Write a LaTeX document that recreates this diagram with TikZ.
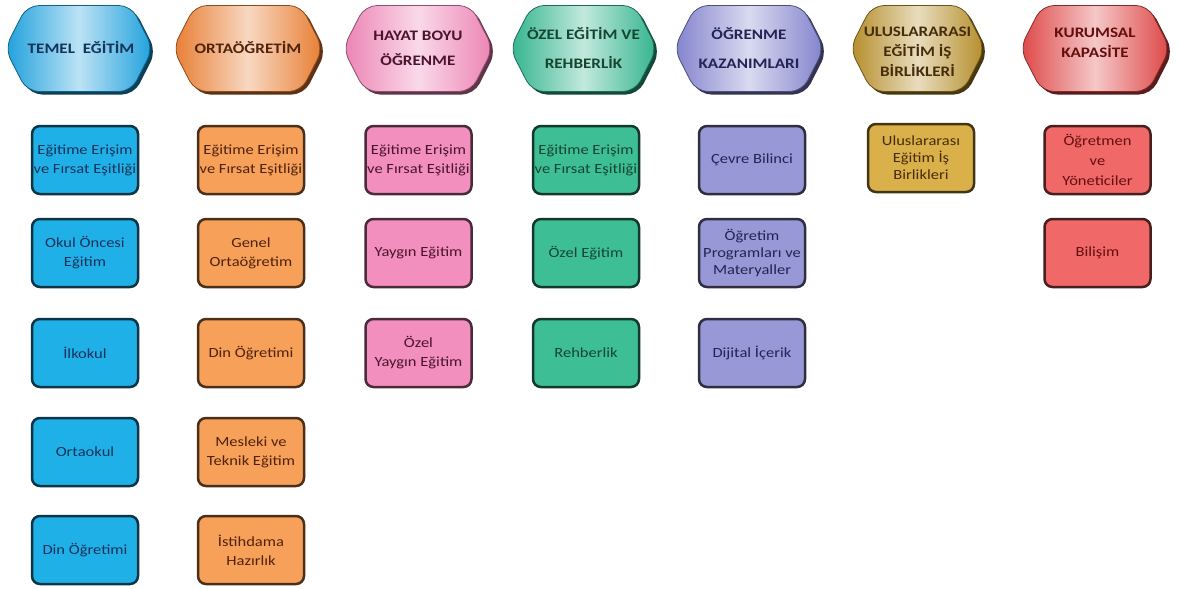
\documentclass[tikz,border=0pt]{standalone}
\usepackage{fontspec}
\setmainfont{Carlito}[FakeStretch=1.18]
\usetikzlibrary{shadings}
\definecolor{cBlue}{RGB}{32,176,232}
\definecolor{cOrange}{RGB}{247,160,90}
\definecolor{cPink}{RGB}{242,143,190}
\definecolor{cGreen}{RGB}{62,190,148}
\definecolor{cPurple}{RGB}{152,152,214}
\definecolor{cGold}{RGB}{217,176,74}
\definecolor{cRed}{RGB}{240,104,104}
\definecolor{hBlue}{RGB}{30,160,220}
\definecolor{hOrange}{RGB}{232,125,50}
\definecolor{hPink}{RGB}{236,130,180}
\definecolor{hGreen}{RGB}{50,180,140}
\definecolor{hPurple}{RGB}{130,130,205}
\definecolor{hGold}{RGB}{180,140,40}
\definecolor{hRed}{RGB}{222,70,70}
\definecolor{tBlue}{RGB}{20,50,90}
\definecolor{tOrange}{RGB}{80,35,10}
\definecolor{tPink}{RGB}{75,20,45}
\definecolor{tGreen}{RGB}{20,70,50}
\definecolor{tPurple}{RGB}{35,35,85}
\definecolor{tGold}{RGB}{70,45,10}
\definecolor{tRed}{RGB}{100,15,15}
\tikzset{
  box/.style={draw=c#1!30!black, fill=c#1, text=t#1, line width=2.5pt, rounded corners=8pt,
    minimum width=106pt, minimum height=68pt, align=center, inner sep=0pt,
    font=\fontsize{14}{19}\selectfont},
  hdrtext/.style={text=t#1, align=center, font=\bfseries\fontsize{14.5}{24}\selectfont},
}
\newcommand\hexhdr[3]{%
  \begin{scope}[shift={(#2,48.5)}]
    \path[fill=h#1!40!black, rounded corners=12pt]
      ({-#3+3},3) -- ({-#3+25},-40) -- ({#3-19},-40) -- ({#3+3},3) -- ({#3-19},46) -- ({-#3+25},46) -- cycle;
    \path[draw=h#1!60!black, line width=0.8pt, left color=h#1, right color=h#1, middle color=white!70!h#1, rounded corners=12pt]
      ({-#3},0) -- ({-#3+22},-43) -- ({#3-22},-43) -- ({#3},0) -- ({#3-22},43) -- ({-#3+22},43) -- cycle;
  \end{scope}}
\begin{document}
\begin{tikzpicture}[x=1pt,y=-1pt]
\useasboundingbox[fill=white] (0,0) rectangle (1179,589);
% headers
\hexhdr{Blue}{79}{74}
\hexhdr{Orange}{248}{75}
\hexhdr{Pink}{418}{75}
\hexhdr{Green}{583.5}{73.5}
\hexhdr{Purple}{749}{75}
\hexhdr{Gold}{917.5}{67.5}
\hexhdr{Red}{1095}{75}
\node[hdrtext=Blue] (h1) at (81,47) {TEMEL\ \ EĞİTİM};
\node[hdrtext=Orange] (h2) at (248,47) {ORTAÖĞRETİM};
\node[hdrtext=Pink, font=\bfseries\fontsize{14.5}{25}\selectfont] (h3) at (418,48) {HAYAT BOYU\\ÖĞRENME};
\node[hdrtext=Green, font=\bfseries\fontsize{14.5}{29}\selectfont] (h4) at (583.5,48) {ÖZEL EĞİTİM VE\\REHBERLİK};
\node[hdrtext=Purple, font=\bfseries\fontsize{14.5}{29}\selectfont] (h5) at (749,48) {ÖĞRENME\\KAZANIMLARI};
\node[hdrtext=Gold, font=\bfseries\fontsize{14.5}{20}\selectfont] (h6) at (917.5,52) {ULUSLARARASI\\EĞİTİM İŞ\\BİRLİKLERİ};
\node[hdrtext=Red, font=\bfseries\fontsize{14.5}{20}\selectfont] (h7) at (1095,43) {KURUMSAL\\KAPASİTE};
% blue column
\node[box=Blue] (b1) at (85,160) {Eğitime Erişim\\ve Fırsat Eşitliği};
\node[box=Blue] (b2) at (85,253) {Okul Öncesi\\Eğitim};
\node[box=Blue] (b3) at (85,353) {İlkokul};
\node[box=Blue] (b4) at (85,452) {Ortaokul};
\node[box=Blue] (b5) at (85,550) {Din Öğretimi};
% orange column
\node[box=Orange] (o1) at (251,160) {Eğitime Erişim\\ve Fırsat Eşitliği};
\node[box=Orange] (o2) at (251,253) {Genel\\Ortaöğretim};
\node[box=Orange] (o3) at (251,353) {Din Öğretimi};
\node[box=Orange] (o4) at (251,452) {Mesleki ve\\Teknik Eğitim};
\node[box=Orange] (o5) at (251,550) {İstihdama\\Hazırlık};
% pink column
\node[box=Pink] (p1) at (418.5,160) {Eğitime Erişim\\ve Fırsat Eşitliği};
\node[box=Pink] (p2) at (418.5,253) {Yaygın Eğitim};
\node[box=Pink] (p3) at (418.5,353) {Özel\\Yaygın Eğitim};
% green column
\node[box=Green] (g1) at (586,160) {Eğitime Erişim\\ve Fırsat Eşitliği};
\node[box=Green] (g2) at (586,253) {Özel Eğitim};
\node[box=Green] (g3) at (586,353) {Rehberlik};
% purple column
\node[box=Purple] (u1) at (752,160) {Çevre Bilinci};
\node[box=Purple, font=\fontsize{14}{17}\selectfont] (u2) at (752,253) {Öğretim\\Programları ve\\Materyaller};
\node[box=Purple] (u3) at (752,353) {Dijital İçerik};
% gold column
\node[box=Gold, font=\fontsize{14}{17}\selectfont] (k1) at (921,158) {Uluslararası\\Eğitim İş\\Birlikleri};
% red column
\node[box=Red, font=\fontsize{14}{20}\selectfont] (r1) at (1097.5,160) {Öğretmen\\ve\\Yöneticiler};
\node[box=Red] (r2) at (1097.5,253) {Bilişim};
\end{tikzpicture}
\end{document}
